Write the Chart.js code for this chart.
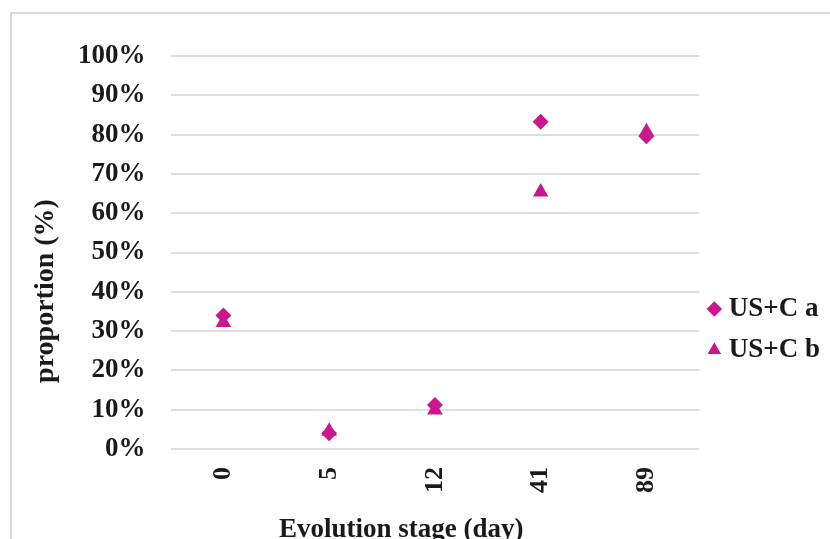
<!DOCTYPE html>
<html>
<head>
<meta charset="utf-8">
<script src="https://cdn.jsdelivr.net/npm/chart.js@4.4.0/dist/chart.umd.min.js"></script>
<style>
  html, body { margin: 0; padding: 0; background: #fff; overflow: hidden; }
  #frame { position: absolute; left: 10px; top: 12px; width: 900px; height: 600px;
           border-left: 2px solid #d9d9d9; border-top: 2px solid #d9d9d9; }
  #wrap { position: absolute; left: 0; top: 0; width: 830px; height: 539px; }
</style>
</head>
<body>
<div id="frame"></div>
<div id="wrap"><canvas id="chart"></canvas></div>
<script>
// data
const stages = ['0', '5', '12', '41', '89'];
const seriesA = [34.0, 4.0, 11.2, 83.3, 79.6];   // US+C a (diamond)
const seriesB = [32.2, 4.5, 9.9, 65.4, 80.7];    // US+C b (triangle)
const yTicks = [0, 10, 20, 30, 40, 50, 60, 70, 80, 90, 100];

const serif = "'Liberation Serif', 'Times New Roman', serif";
const pink = '#c9188c';
const ink = '#1a1a1a';
// the titles sit off-centre in the original, trailing nbsp pushes them over
const pad = n => '\u00a0'.repeat(n);

onload = () => {
    const ctx = document.getElementById('chart').getContext('2d');

    new Chart(ctx, {
        type: 'line',
        data: {
            labels: stages,
            datasets: [{
                label: 'US+C a',
                data: seriesA,
                showLine: false,
                pointStyle: 'rectRot',
                pointRadius: 8,
                pointHoverRadius: 8,
                backgroundColor: pink,
                borderColor: pink,
                borderWidth: 0
            }, {
                label: 'US+C b',
                data: seriesB,
                showLine: false,
                pointStyle: 'triangle',
                pointRadius: 9,
                pointHoverRadius: 9,
                backgroundColor: pink,
                borderColor: pink,
                borderWidth: 0
            }]
        },
        options: {
            responsive: true,
            maintainAspectRatio: false,
            animation: false,
            layout: { padding: { top: 56, bottom: 0, left: 8, right: 0 } },
            plugins: {
                tooltip: { enabled: false },
                legend: {
                    position: 'right',
                    title: { display: true, text: ' ', font: { size: 1, lineHeight: 1 }, padding: { top: 63, bottom: 0 } },
                    labels: {
                        usePointStyle: true,
                        boxWidth: 2,
                        boxHeight: 11,
                        padding: 14,
                        color: ink,
                        font: { family: serif, size: 27, weight: 'bold' }
                    }
                }
            },
            scales: {
                x: {
                    offset: true,
                    grid: { display: false, drawTicks: false },
                    border: { display: false },
                    ticks: {
                        minRotation: 90,
                        maxRotation: 90,
                        padding: 18,
                        color: ink,
                        font: { family: serif, size: 26, weight: 'bold' }
                    },
                    title: {
                        display: true,
                        text: 'Evolution stage (day)' + pad(10),
                        color: ink,
                        font: { family: serif, size: 27, weight: 'bold', lineHeight: 1 },
                        padding: { top: 6, bottom: -5 }
                    }
                },
                y: {
                    min: 0,
                    max: 100,
                    afterBuildTicks: axis => { axis.ticks = yTicks.map(v => ({ value: v })); },
                    grid: { color: '#dedede', lineWidth: 2, drawTicks: false },
                    border: { display: false },
                    ticks: {
                        padding: 25,
                        color: ink,
                        font: { family: serif, size: 27, weight: 'bold' },
                        callback: v => v + '%'
                    },
                    title: {
                        display: true,
                        text: 'proportion (%)' + pad(11),
                        color: ink,
                        font: { family: serif, size: 28, weight: 'bold', lineHeight: 1 },
                        padding: { top: 24, bottom: -7 }
                    }
                }
            }
        }
    });
};
</script>
</body>
</html>
